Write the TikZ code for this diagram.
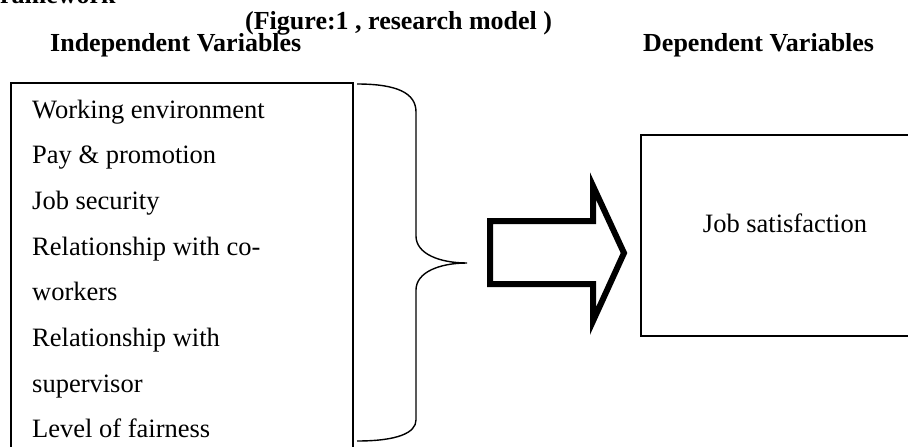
\documentclass[tikz,border=0pt]{standalone}
\usepackage{fontspec}
\setmainfont{Liberation Serif}
\begin{document}
\begin{tikzpicture}[x=1pt,y=-1pt,
  txt/.style={inner sep=0pt, anchor=base west, font=\fontsize{26.5}{32}\selectfont},
  hdr/.style={inner sep=0pt, anchor=base west, font=\fontsize{26}{30}\selectfont\bfseries},
  boxline/.style={draw=black, line width=2pt},
  bracestyle/.style={draw=black, line width=1.4pt},
  bigarrow/.style={draw=black, line width=6pt, miter limit=10, line join=miter}]
\useasboundingbox (0,0) rectangle (908,447);
\clip (0,0) rectangle (908,447);
% headings
\node[hdr] (fw) at (-16,4) {Framework};
\node[hdr] (title) at (245,29) {(Figure:1 , research model )};
\node[hdr] (indep) at (50,51) {Independent Variables};
\node[hdr] (dep) at (643,51) {Dependent Variables};
% left box
\draw[boxline] (353,470) -- (353,83) -- (11,83) -- (11,470);
\node[txt] (l1) at (32,118) {Working environment};
\node[txt] (l2) at (32,163.7) {Pay \& promotion};
\node[txt] (l3) at (32,209.4) {Job security};
\node[txt] (l4) at (32,255.1) {Relationship with co-};
\node[txt] (l5) at (32,300.8) {workers};
\node[txt] (l6) at (32,346.5) {Relationship with};
\node[txt] (l7) at (32,392.2) {supervisor};
\node[txt] (l8) at (32,437.9) {Level of fairness};
% brace
\draw[bracestyle] (357,84) .. controls (397,84) and (416,93) .. (416,112)
  -- (416,236) .. controls (416,254) and (440,263) .. (467,263)
  .. controls (440,263) and (416,272) .. (416,290)
  -- (416,420) .. controls (416,433) and (397,441) .. (357,441);
% arrow
\draw[bigarrow] (490,221) -- (593,221) -- (593,186) -- (624,253) -- (593,321) -- (593,284) -- (490,284) -- cycle;
% right box
\draw[boxline] (930,135) -- (641,135) -- (641,336) -- (930,336);
\node[txt, anchor=center] (js) at (785,223) {Job satisfaction};
\end{tikzpicture}
\end{document}
